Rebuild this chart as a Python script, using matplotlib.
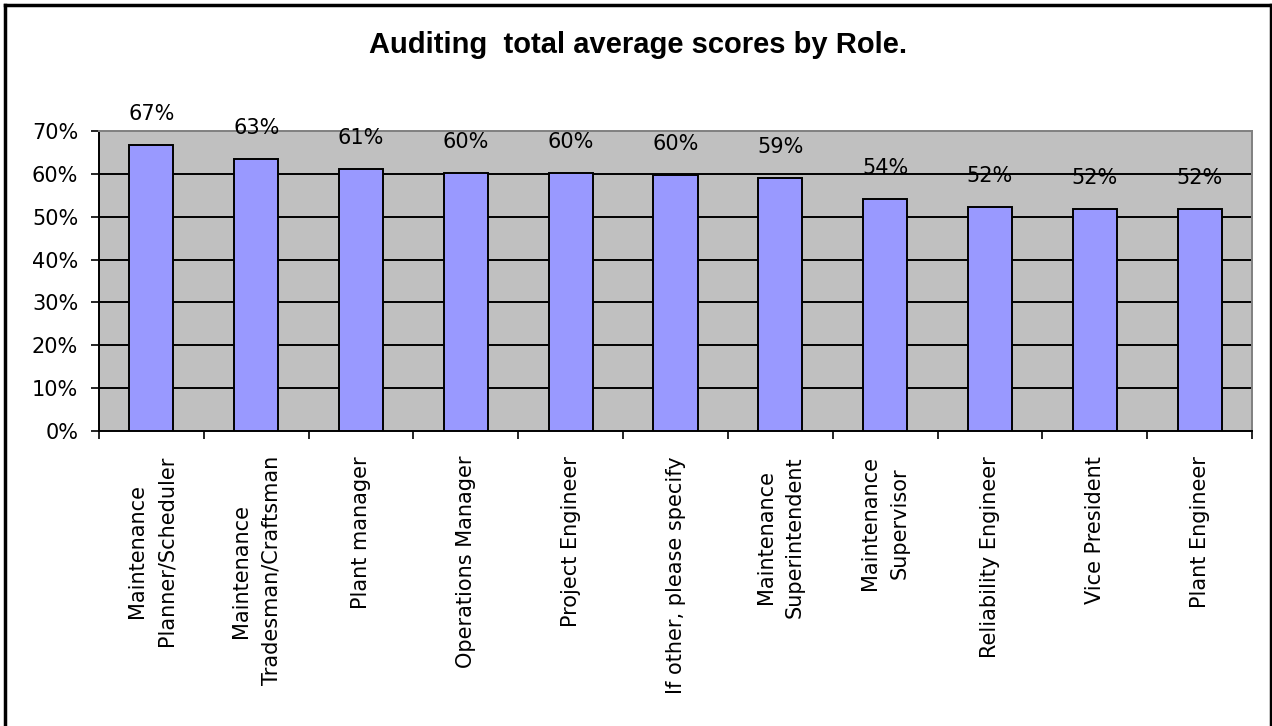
import numpy as np
import matplotlib
matplotlib.use('Agg')
import matplotlib.pyplot as plt
from matplotlib.lines import Line2D
from matplotlib.ticker import FixedLocator, PercentFormatter

# data
roles = [
    'Maintenance\nPlanner/Scheduler',
    'Maintenance\nTradesman/Craftsman',
    'Plant manager',
    'Operations Manager',
    'Project Engineer',
    'If other, please specify',
    'Maintenance\nSuperintendent',
    'Maintenance\nSupervisor',
    'Reliability Engineer',
    'Vice President',
    'Plant Engineer',
]
scores = [0.667, 0.635, 0.611, 0.602, 0.602, 0.597, 0.590, 0.541, 0.522, 0.517, 0.517]
value_labels = ['67%', '63%', '61%', '60%', '60%', '60%', '59%', '54%', '52%', '52%', '52%']
y_ticks = [0.0, 0.1, 0.2, 0.3, 0.4, 0.5, 0.6, 0.7]

W, H = 1272, 726
fig = plt.figure(figsize=(W / 100, H / 100), dpi=100)
fig.patch.set_facecolor('white')

label_font = dict(family='DejaVu Sans', size=15)

# plot area
ax = fig.add_axes([99 / W, 1 - 431 / H, (1252 - 99) / W, (431 - 131) / H])
ax.set_facecolor('#C0C0C0')

x = np.arange(len(roles))
ax.bar(x, scores, width=0.42, color='#9999FF', edgecolor='black', linewidth=1.4, zorder=3)

# black gridlines (not at the top edge, which is the gray frame)
for t in y_ticks[1:-1]:
    ax.axhline(t, color='black', linewidth=1.4, zorder=1)

for xi, v, lab in zip(x, scores, value_labels):
    ax.annotate(lab, (xi, v), xytext=(0, 22.5), textcoords='offset points',
                ha='center', va='center', color='black', zorder=4, **label_font)

ax.set_xlim(-0.5, len(roles) - 0.5)
ax.set_ylim(0, 0.7)

ax.yaxis.set_major_locator(FixedLocator(y_ticks))
ax.yaxis.set_major_formatter(PercentFormatter(1.0, decimals=0))
ax.tick_params(axis='y', direction='out', length=6, width=1.2, pad=9, colors='black')
for t in ax.get_yticklabels():
    t.set_fontfamily('DejaVu Sans')
    t.set_fontsize(15)

ax.set_xticks(x)
ax.set_xticklabels(roles, rotation=90, ha='center', va='top', linespacing=1.6, **label_font)
ax.tick_params(axis='x', which='major', length=0, pad=18)
ax.set_xticks(np.arange(len(roles) + 1) - 0.5, minor=True)
ax.tick_params(axis='x', which='minor', direction='out', length=6, width=1.2)

for side in ['top', 'right']:
    ax.spines[side].set_color('#808080')
    ax.spines[side].set_linewidth(1.4)
for side in ['left', 'bottom']:
    ax.spines[side].set_color('black')
    ax.spines[side].set_linewidth(1.4)

fig.text(638 / W, 1 - 53 / H, 'Auditing  total average scores by Role.',
         ha='center', va='baseline', family='Liberation Sans', fontweight='bold', fontsize=21)

# outer chart border
for xs, ys in [([5, 5], [5, H + 5]), ([5, 1271], [5, 5]), ([1271, 1271], [5, H + 5])]:
    fig.add_artist(Line2D([v / W for v in xs], [1 - v / H for v in ys], color='black', linewidth=2.5))

plt.savefig('out.png', dpi=100)
